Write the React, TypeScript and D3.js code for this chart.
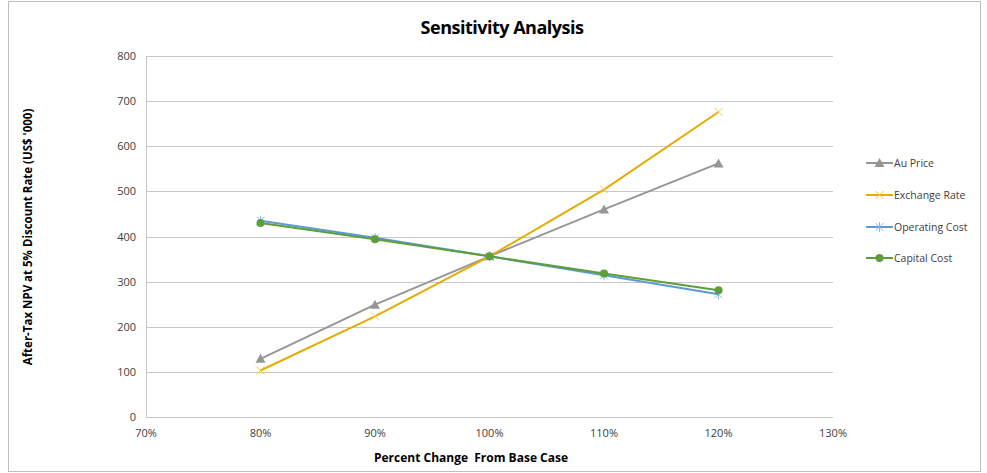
import React from "react";
import * as d3 from "d3";

const xTicks = [0.7, 0.8, 0.9, 1.0, 1.1, 1.2, 1.3];
const yTicks = [0, 100, 200, 300, 400, 500, 600, 700, 800];
const xValues = [0.8, 0.9, 1.0, 1.1, 1.2];
const auPrice = [129, 249, 356, 460, 562];
const exchangeRate = [103, 223, 356, 504, 676];
const operatingCost = [435, 397, 356, 314, 272];
const capitalCost = [430, 394, 356, 318, 281];
const seriesNames = ["Au Price", "Exchange Rate", "Operating Cost", "Capital Cost"];

const W = 987, H = 473;
const FONT = "'Open Sans', 'Noto Sans', sans-serif";

const series = [
  { name: seriesNames[0], values: auPrice, color: "#969696", marker: "triangle" },
  { name: seriesNames[1], values: exchangeRate, color: "#E3AC00", marker: "x" },
  { name: seriesNames[2], values: operatingCost, color: "#5B9BD5", marker: "star" },
  { name: seriesNames[3], values: capitalCost, color: "#5E9E3A", marker: "circle" },
];

function Marker({ type, x, y, color }: { type: string; x: number; y: number; color: string }) {
  if (type === "triangle") {
    return <path d={`M${x},${y - 5}L${x + 5},${y + 4}L${x - 5},${y + 4}Z`} fill={color} />;
  }
  if (type === "x") {
    return <path d={`M${x - 4},${y - 4}L${x + 4},${y + 4}M${x - 4},${y + 4}L${x + 4},${y - 4}`} stroke="#F0C850" strokeWidth={1} />;
  }
  if (type === "star") {
    return (
      <path
        d={`M${x - 4},${y - 4}L${x + 4},${y + 4}M${x - 4},${y + 4}L${x + 4},${y - 4}M${x},${y - 5}L${x},${y + 5}`}
        stroke="#8DB8E2"
        strokeWidth={1}
      />
    );
  }
  return <circle cx={x} cy={y} r={4} fill={color} />;
}

export default function App() {
  const x = d3.scaleLinear().domain([0.7, 1.3]).range([146, 833]);
  const y = d3.scaleLinear().domain([0, 800]).range([417, 56]);
  const line = d3
    .line<[number, number]>()
    .x((d) => x(d[0]))
    .y((d) => y(d[1]));
  const fmt = d3.format(".0%");
  const legendY = [163, 195, 227, 258];

  return (
    <svg width={W} height={H} style={{ position: "absolute", left: 0, top: 0 }} fontFamily={FONT}>
      <rect x={0} y={0} width={W} height={H} fill="#fff" />
      <rect x={8.5} y={1.5} width={972} height={470} fill="#fff" stroke="#BFBFBF" strokeWidth={1} />
      <text x={502} y={34} textAnchor="middle" fontSize={18} fontWeight="bold" fill="#000" letterSpacing={-0.5}>
        Sensitivity Analysis
      </text>
      {yTicks.map((t) => (
        <g key={t}>
          <line x1={146} x2={833} y1={Math.round(y(t)) + 0.5} y2={Math.round(y(t)) + 0.5} stroke="#C8C8C8" strokeWidth={1} />
          <text x={136} y={y(t) + 4} textAnchor="end" fontSize={11} fill="#404040">
            {t}
          </text>
        </g>
      ))}
      <line x1={146.5} x2={146.5} y1={56} y2={417} stroke="#C8C8C8" strokeWidth={1} />
      {xTicks.map((t) => (
        <text key={t} x={x(t)} y={437} textAnchor="middle" fontSize={11} fill="#404040">
          {fmt(t)}
        </text>
      ))}
      <text x={471} y={462} textAnchor="middle" fontSize={12} fontWeight="bold" fill="#000" xmlSpace="preserve" style={{ whiteSpace: "pre" }}>
        {"Percent Change  From Base Case"}
      </text>
      <text
        transform={`translate(32,237) rotate(-90)`}
        textAnchor="middle"
        fontSize={11.5}
        fontWeight="bold"
        fill="#000"
      >
        After-Tax NPV at 5% Discount Rate (US$ '000)
      </text>
      {series.map((s) => {
        const pts = xValues.map((v, i) => [v, s.values[i]] as [number, number]);
        return (
          <g key={s.name}>
            <path d={line(pts) || ""} fill="none" stroke={s.color} strokeWidth={2} />
            {pts.map((p, i) => (
              <Marker key={i} type={s.marker} x={x(p[0])} y={y(p[1])} color={s.color} />
            ))}
          </g>
        );
      })}
      {series.map((s, i) => (
        <g key={s.name}>
          <line x1={866} x2={893} y1={legendY[i]} y2={legendY[i]} stroke={s.color} strokeWidth={2} />
          <Marker type={s.marker} x={879.5} y={legendY[i]} color={s.color} />
          <text x={894} y={legendY[i] + 4} fontSize={10.5} fill="#404040">
            {s.name}
          </text>
        </g>
      ))}
    </svg>
  );
}
